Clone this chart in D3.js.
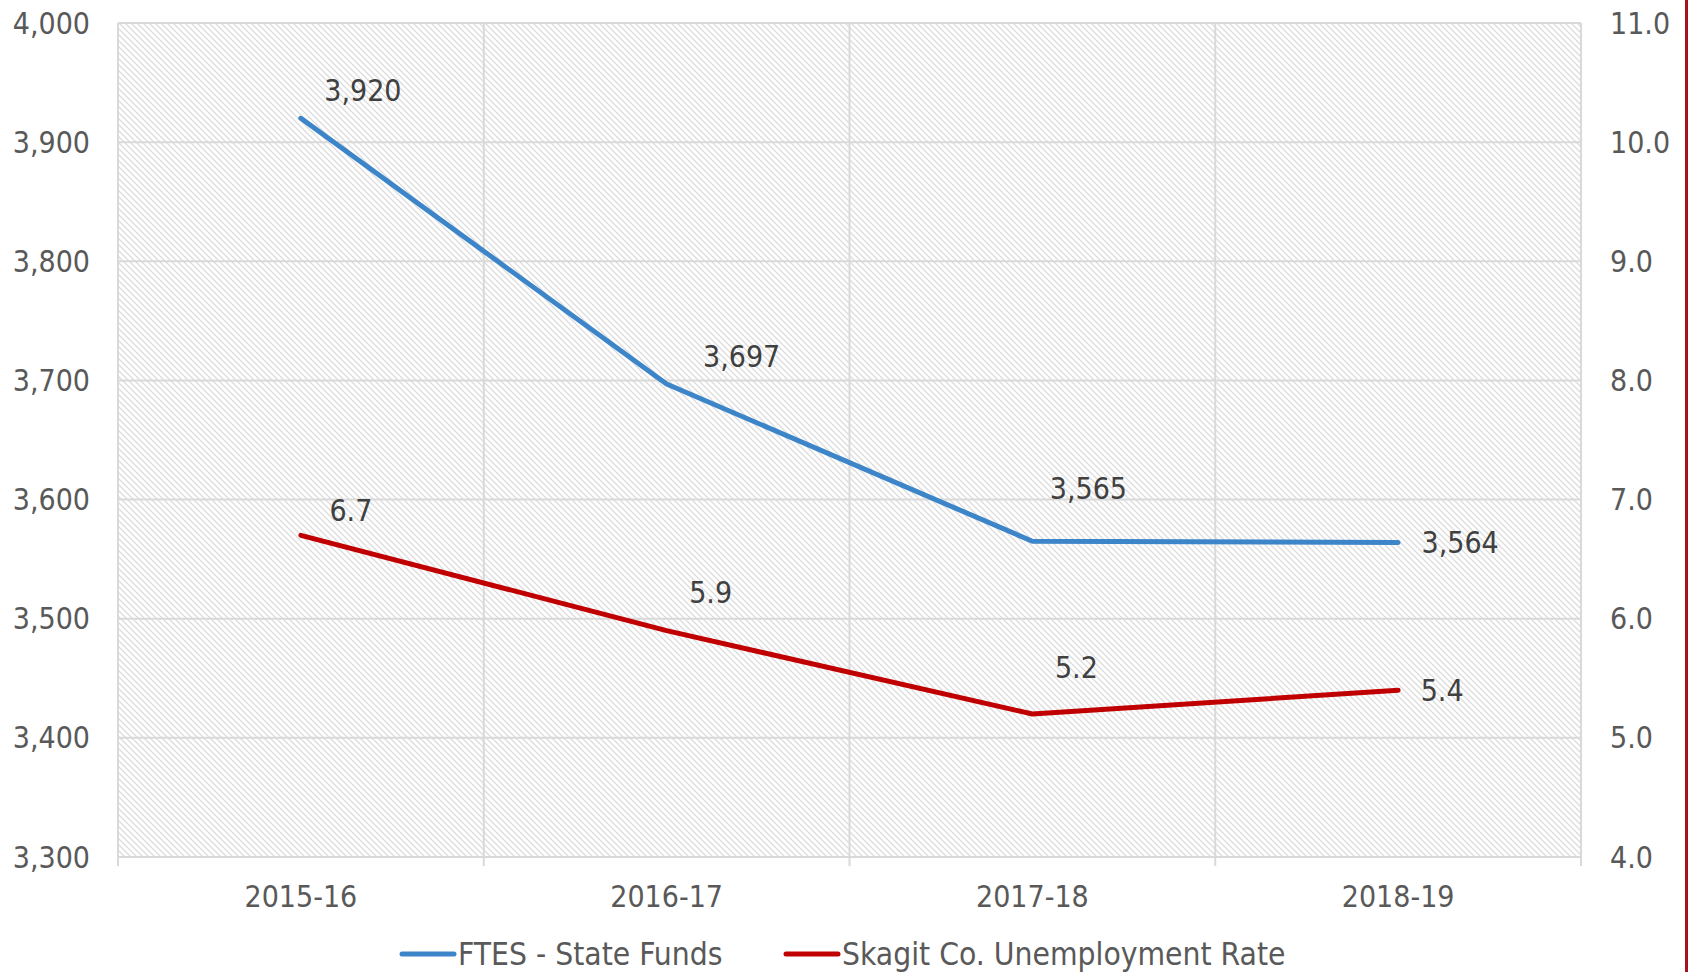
<!DOCTYPE html>
<html>
<head>
<meta charset="utf-8">
<script src="https://cdn.jsdelivr.net/npm/d3@7"></script>
<style>
  html, body { margin: 0; padding: 0; background: #fff; }
  svg { display: block; }
  text { font-family: 'DejaVu Sans Condensed', 'DejaVu Sans', sans-serif; }
</style>
</head>
<body>
<svg id="chart" width="1688" height="972"></svg>
<script>
// chart data
const years = ['2015-16', '2016-17', '2017-18', '2018-19'];
const ftes = [3920, 3697, 3565, 3564];
const unemployment = [6.7, 5.9, 5.2, 5.4];
const leftTicks = [3300, 3400, 3500, 3600, 3700, 3800, 3900, 4000];
const rightTicks = [4, 5, 6, 7, 8, 9, 10, 11];
const seriesNames = ['FTES - State Funds', 'Skagit Co. Unemployment Rate'];

// where the value labels sit relative to their point (px)
const ftesLabelOffset = [[62, -28], [75, -28], [56, -53], [62, 0]];
const unempLabelOffset = [[50, -25], [44, -38], [44, -47], [44, 0]];

const blue = '#3D85C9';
const red = '#C00000';

const width = 1688;
const height = 972;
const margin = { top: 23, right: 107, bottom: 115, left: 118 };

const svg = d3.select('#chart');

const x = d3.scaleBand()
  .domain(years)
  .range([margin.left, width - margin.right]);

const yLeft = d3.scaleLinear()
  .domain([3300, 4000])
  .range([height - margin.bottom, margin.top]);

const yRight = d3.scaleLinear()
  .domain([4, 11])
  .range([height - margin.bottom, margin.top]);

const xMid = d => x(d) + x.bandwidth() / 2;

// hatch pattern for the plot area
const defs = svg.append('defs');
const pat = defs.append('pattern')
  .attr('id', 'hatch')
  .attr('patternUnits', 'userSpaceOnUse')
  .attr('width', 6)
  .attr('height', 6);
pat.append('path')
  .attr('d', 'M-1,-1 L7,7 M-1,5 L1,7 M5,-1 L7,1')
  .attr('stroke', '#dcdcdc')
  .attr('stroke-width', 1.3);

svg.append('rect')
  .attr('x', margin.left)
  .attr('y', margin.top)
  .attr('width', width - margin.left - margin.right)
  .attr('height', height - margin.top - margin.bottom)
  .attr('fill', 'url(#hatch)');

// gridlines
svg.append('g')
  .selectAll('line')
  .data(leftTicks)
  .join('line')
  .attr('x1', margin.left)
  .attr('x2', width - margin.right)
  .attr('y1', d => yLeft(d))
  .attr('y2', d => yLeft(d))
  .attr('stroke', '#d9d9d9')
  .attr('stroke-width', 2);

const bounds = years.map(d => x(d)).concat([x(years[years.length - 1]) + x.bandwidth()]);
svg.append('g')
  .selectAll('line')
  .data(bounds)
  .join('line')
  .attr('x1', d => d)
  .attr('x2', d => d)
  .attr('y1', margin.top)
  .attr('y2', height - margin.bottom + 9)
  .attr('stroke', '#d9d9d9')
  .attr('stroke-width', 2);

// left axis labels
svg.append('g')
  .selectAll('text')
  .data(leftTicks)
  .join('text')
  .attr('x', 90)
  .attr('y', d => yLeft(d))
  .attr('text-anchor', 'end')
  .attr('dominant-baseline', 'central')
  .attr('fill', '#595959')
  .style('font-size', '30px')
  .text(d => d3.format(',')(d));

// right axis labels
svg.append('g')
  .selectAll('text')
  .data(rightTicks)
  .join('text')
  .attr('x', width - margin.right + 29)
  .attr('y', d => yRight(d))
  .attr('text-anchor', 'start')
  .attr('dominant-baseline', 'central')
  .attr('fill', '#595959')
  .style('font-size', '30px')
  .text(d => d3.format('.1f')(d));

// category labels
svg.append('g')
  .selectAll('text')
  .data(years)
  .join('text')
  .attr('x', d => xMid(d))
  .attr('y', 896)
  .attr('text-anchor', 'middle')
  .attr('dominant-baseline', 'central')
  .attr('fill', '#595959')
  .style('font-size', '30px')
  .text(d => d);

// lines
const lineLeft = d3.line()
  .x((d, i) => xMid(years[i]))
  .y(d => yLeft(d));
const lineRight = d3.line()
  .x((d, i) => xMid(years[i]))
  .y(d => yRight(d));

svg.append('path')
  .datum(unemployment)
  .attr('d', lineRight)
  .attr('fill', 'none')
  .attr('stroke', red)
  .attr('stroke-width', 5)
  .attr('stroke-linecap', 'round')
  .attr('stroke-linejoin', 'round');

svg.append('path')
  .datum(ftes)
  .attr('d', lineLeft)
  .attr('fill', 'none')
  .attr('stroke', blue)
  .attr('stroke-width', 5)
  .attr('stroke-linecap', 'round')
  .attr('stroke-linejoin', 'round');

// value labels
svg.append('g')
  .selectAll('text')
  .data(ftes)
  .join('text')
  .attr('x', (d, i) => xMid(years[i]) + ftesLabelOffset[i][0])
  .attr('y', (d, i) => yLeft(d) + ftesLabelOffset[i][1])
  .attr('text-anchor', 'middle')
  .attr('dominant-baseline', 'central')
  .attr('fill', '#404040')
  .style('font-size', '30px')
  .text(d => d3.format(',')(d));

svg.append('g')
  .selectAll('text')
  .data(unemployment)
  .join('text')
  .attr('x', (d, i) => xMid(years[i]) + unempLabelOffset[i][0])
  .attr('y', (d, i) => yRight(d) + unempLabelOffset[i][1])
  .attr('text-anchor', 'middle')
  .attr('dominant-baseline', 'central')
  .attr('fill', '#404040')
  .style('font-size', '30px')
  .text(d => d3.format('.1f')(d));

// legend
const legend = svg.append('g');
const legendItems = [
  { name: seriesNames[0], color: blue, x: 402 },
  { name: seriesNames[1], color: red, x: 786 }
];
legendItems.forEach(it => {
  legend.append('line')
    .attr('x1', it.x)
    .attr('x2', it.x + 52)
    .attr('y1', 954)
    .attr('y2', 954)
    .attr('stroke', it.color)
    .attr('stroke-width', 5)
    .attr('stroke-linecap', 'round');
  legend.append('text')
    .attr('x', it.x + 56)
    .attr('y', 954)
    .attr('dominant-baseline', 'central')
    .attr('fill', '#595959')
    .style('font-size', '31.5px')
    .text(it.name);
});

// red edge on the right
svg.append('line')
  .attr('x1', 1686.5)
  .attr('x2', 1686.5)
  .attr('y1', 0)
  .attr('y2', height)
  .attr('stroke', '#a81020')
  .attr('stroke-width', 3);
</script>
</body>
</html>
